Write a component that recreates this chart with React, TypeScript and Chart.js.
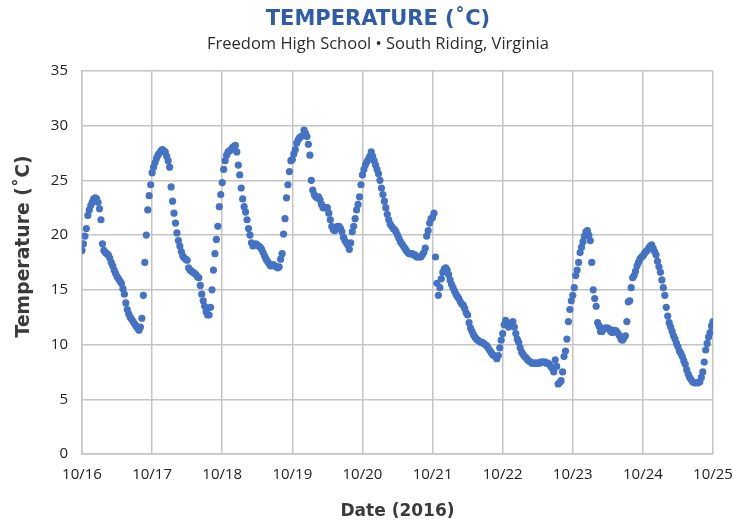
import React, { useEffect, useRef } from "react";
import { Chart, registerables } from "chart.js";

Chart.register(...registerables);

// ---- Data ----
const dateLabels = ["10/16", "10/17", "10/18", "10/19", "10/20", "10/21", "10/22", "10/23", "10/24", "10/25"];

// Half-hourly temperatures (°C), one array per day, starting at 00:00
const temps1016 = [18.6, 19.2, 19.9, 20.6, 21.8, 22.3, 22.7, 23.0, 23.3, 23.4, 23.3, 23.0, 22.4, 21.4, 19.2, 18.6, 18.4, 18.3, 18.2, 17.9, 17.5, 17.2, 16.8, 16.5, 16.2, 16.0, 15.8, 15.6, 15.1, 14.6, 13.8, 13.2, 12.8, 12.5, 12.3, 12.1, 11.9, 11.7, 11.5, 11.3, 11.6, 12.4, 14.5, 17.5, 20.0, 22.3, 23.6, 24.6];
const temps1017 = [25.7, 26.2, 26.6, 27.0, 27.3, 27.5, 27.7, 27.8, 27.7, 27.6, 27.2, 26.8, 26.2, 24.4, 23.1, 22.0, 21.1, 20.2, 19.5, 19.0, 18.5, 18.1, 17.9, 17.8, 17.7, 17.0, 16.8, 16.7, 16.6, 16.5, 16.4, 16.2, 16.1, 15.4, 14.6, 14.0, 13.5, 13.0, 12.7, 12.7, 13.4, 15.0, 16.8, 18.3, 19.6, 20.8, 22.6, 23.7];
const temps1018 = [24.8, 26.0, 26.8, 27.3, 27.6, 27.7, 27.8, 28.0, 28.1, 28.2, 27.6, 26.4, 25.5, 24.3, 23.3, 22.6, 22.1, 21.4, 20.6, 20.0, 19.3, 19.0, 19.1, 19.2, 19.1, 19.0, 18.9, 18.7, 18.4, 18.1, 17.8, 17.6, 17.4, 17.2, 17.2, 17.3, 17.2, 17.1, 17.0, 17.1, 17.8, 18.3, 20.1, 21.5, 23.4, 24.6, 25.8, 26.8];
const temps1019 = [26.9, 27.4, 27.8, 28.4, 28.7, 28.9, 29.0, 29.1, 29.6, 29.3, 29.0, 28.3, 27.3, 25.0, 24.1, 23.7, 23.5, 23.4, 23.5, 23.2, 22.8, 22.5, 22.5, 22.5, 22.5, 22.0, 21.4, 20.8, 20.5, 20.4, 20.6, 20.8, 20.8, 20.6, 20.3, 19.8, 19.5, 19.3, 19.1, 18.7, 19.3, 20.3, 20.8, 21.5, 22.3, 22.8, 23.5, 24.6];
const temps1020 = [25.5, 26.0, 26.4, 26.7, 26.9, 27.2, 27.6, 27.2, 26.8, 26.4, 26.0, 25.6, 25.0, 24.3, 23.7, 23.1, 22.5, 21.9, 21.4, 21.0, 20.8, 20.6, 20.5, 20.3, 20.0, 19.7, 19.4, 19.2, 19.0, 18.8, 18.6, 18.4, 18.3, 18.3, 18.3, 18.2, 18.2, 18.0, 18.0, 18.0, 18.0, 18.2, 18.4, 18.8, 19.9, 20.4, 21.1, 21.5];
const temps1021 = [21.6, 22.0, 18.0, 15.6, 14.5, 15.2, 16.0, 16.6, 16.9, 17.0, 16.8, 16.4, 15.9, 15.5, 15.2, 14.9, 14.6, 14.4, 14.2, 13.9, 13.7, 13.6, 13.3, 12.9, 12.7, 12.0, 11.5, 11.2, 10.9, 10.7, 10.5, 10.4, 10.3, 10.2, 10.2, 10.1, 10.0, 9.9, 9.7, 9.5, 9.3, 9.1, 9.0, 8.9, 8.7, 9.0, 9.7, 10.4];
const temps1022 = [11.0, 11.8, 12.2, 11.8, 11.6, 11.8, 12.0, 12.1, 11.6, 11.0, 10.5, 10.2, 9.7, 9.3, 9.1, 8.9, 8.8, 8.6, 8.5, 8.4, 8.3, 8.3, 8.3, 8.3, 8.3, 8.3, 8.4, 8.4, 8.4, 8.4, 8.3, 8.3, 8.2, 8.0, 7.8, 7.5, 8.6, 8.0, 6.4, 6.5, 6.7, 7.5, 8.9, 9.4, 10.5, 12.1, 13.2, 14.0];
const temps1023 = [14.5, 15.2, 16.3, 16.8, 17.5, 18.4, 18.9, 19.4, 19.9, 20.3, 20.4, 20.0, 19.5, 17.5, 15.0, 14.2, 13.5, 12.0, 11.7, 11.2, 11.2, 11.4, 11.5, 11.5, 11.5, 11.4, 11.2, 11.1, 11.3, 11.3, 11.2, 11.0, 10.8, 10.5, 10.4, 10.6, 10.8, 12.1, 13.9, 14.0, 15.2, 16.1, 16.3, 16.7, 17.2, 17.5, 17.8, 18.0];
const temps1024 = [18.1, 18.3, 18.5, 18.6, 18.8, 19.0, 19.1, 18.8, 18.5, 18.2, 17.6, 17.1, 16.6, 15.9, 15.2, 14.5, 13.4, 12.6, 12.0, 11.6, 11.2, 10.8, 10.5, 10.1, 9.8, 9.4, 9.2, 8.9, 8.5, 8.2, 7.7, 7.3, 7.0, 6.8, 6.6, 6.5, 6.5, 6.5, 6.5, 6.6, 7.0, 7.5, 8.4, 9.5, 10.1, 10.7, 11.1, 11.7];
const temps1025 = [12.1];

const dailyTemps = [temps1016, temps1017, temps1018, temps1019, temps1020, temps1021, temps1022, temps1023, temps1024, temps1025];
const STEP_HOURS = 0.5;

function buildPoints() {
  const pts: { x: number; y: number }[] = [];
  dailyTemps.forEach((day, d) => {
    day.forEach((t, i) => pts.push({ x: d * 24 + i * STEP_HOURS, y: t }));
  });
  return pts;
}

const FONT = '"Open Sans", "DejaVu Sans", sans-serif';
const BOLD_FONT = '"DejaVu Sans", "Open Sans", sans-serif';

const axisTitlePlugin = {
  id: "axisTitlePlugin",
  afterDraw(chart: any) {
    const { ctx, chartArea } = chart;
    ctx.save();
    ctx.fillStyle = "#3a3a3a";
    ctx.textAlign = "center";
    ctx.textBaseline = "middle";
    ctx.font = `bold 17px ${BOLD_FONT}`;
    ctx.fillText("Date (2016)", (chartArea.left + chartArea.right) / 2, 512);
    ctx.font = `bold 18.8px ${BOLD_FONT}`;
    ctx.translate(24, (chartArea.top + chartArea.bottom) / 2 - 16);
    ctx.rotate(-Math.PI / 2);
    ctx.fillText("Temperature (˚C)", 0, 0);
    ctx.restore();
  },
};

export default function App() {
  const ref = useRef<HTMLCanvasElement | null>(null);

  useEffect(() => {
    if (!ref.current) return;
    const gridColor = "#c4c4c4";
    const chart = new Chart(ref.current, {
      type: "scatter",
      data: {
        datasets: [
          {
            label: "Temperature",
            data: buildPoints(),
            backgroundColor: "#4472C4",
            borderColor: "#4472C4",
            borderWidth: 0,
            pointRadius: 3.6,
          },
        ],
      },
      plugins: [axisTitlePlugin],
      options: {
        animation: false,
        responsive: true,
        maintainAspectRatio: false,
        layout: { padding: { left: 43, right: 20, top: 0, bottom: 0 } },
        plugins: {
          legend: { display: false },
          tooltip: { enabled: false },
          title: {
            display: true,
            text: "TEMPERATURE (˚C)",
            color: "#2E5BAA",
            font: { family: BOLD_FONT, size: 21, weight: "bold" },
            padding: { top: 6.5, bottom: 2.4 },
          },
          subtitle: {
            display: true,
            text: "Freedom High School • South Riding, Virginia",
            color: "#2b2b2b",
            font: { family: FONT, size: 16.5, weight: "normal" },
            padding: { top: 0, bottom: 17 },
          },
        },
        scales: {
          x: {
            type: "linear",
            min: 0,
            max: 216,
            afterFit: (scale: any) => {
              scale.height = 68;
              scale.paddingLeft = 0;
              scale.paddingRight = 0;
            },
            afterBuildTicks: (scale: any) => {
              scale.ticks = dateLabels.map((_, i) => ({ value: i * 24 }));
            },
            ticks: {
              stepSize: 24,
              padding: 12,
              color: "#222",
              font: { family: FONT, size: 15 },
              maxRotation: 0,
              autoSkip: false,
              callback: (v: any) => dateLabels[Math.round(Number(v) / 24)] ?? "",
            },
            grid: { color: gridColor, lineWidth: 1.5, drawTicks: false },
            border: { color: gridColor, width: 1.5 },
          },
          y: {
            min: 0,
            max: 35,
            afterFit: (scale: any) => {
              scale.width = 39;
            },
            ticks: {
              stepSize: 5,
              padding: 14,
              color: "#222",
              font: { family: FONT, size: 15 },
            },
            grid: { color: gridColor, lineWidth: 1.5, drawTicks: false },
            border: { color: gridColor, width: 1.5 },
          },
        },
      },
    } as any);
    return () => chart.destroy();
  }, []);

  return (
    <div style={{ position: "fixed", left: 0, top: 0, width: 733, height: 522, background: "#fff" }}>
      <canvas ref={ref} />
    </div>
  );
}
